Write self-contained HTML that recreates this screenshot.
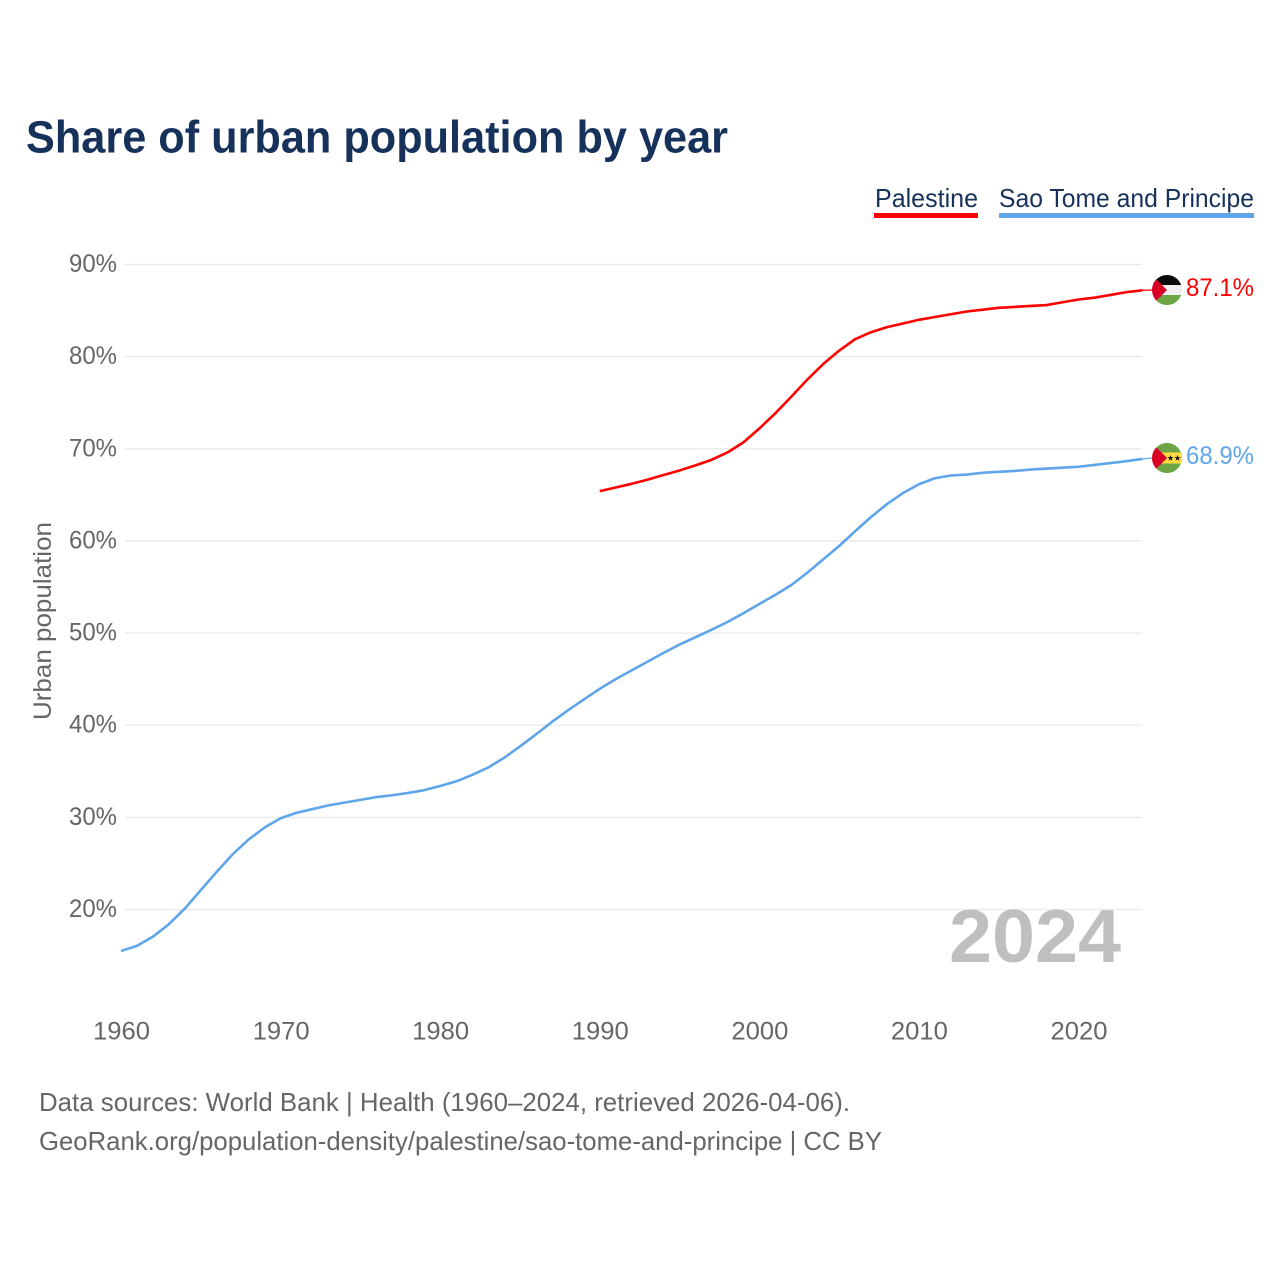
<!DOCTYPE html>
<html lang="en">
<head>
<meta charset="utf-8">
<title>Share of urban population by year</title>
<style>
html,body{margin:0;padding:0;background:#fff;}
svg{display:block;font-family:"Liberation Sans",Arial,sans-serif;}
</style>
</head>
<body>
<svg id="chart" xmlns="http://www.w3.org/2000/svg" width="1280" height="1280" viewBox="0 0 1280 1280">
  <defs>
    <clipPath id="flag-clip-a"><circle cx="1167" cy="290" r="15"/></clipPath>
    <clipPath id="flag-clip-b"><circle cx="1167" cy="458" r="15"/></clipPath>
  </defs>
  <rect x="0" y="0" width="1280" height="1280" fill="#ffffff"/>
  <text x="26" y="152.500" font-size="45" font-weight="700" fill="#17325a" textLength="702" lengthAdjust="spacingAndGlyphs">Share of urban population by year</text>

  <g>
    <text x="875" y="207" font-size="26" fill="#17325a" textLength="103" lengthAdjust="spacingAndGlyphs">Palestine</text>
    <rect x="874" y="213" width="104" height="5" fill="#ff0000"/>
  </g>
  <g>
    <text x="999" y="207" font-size="26" fill="#17325a" textLength="255" lengthAdjust="spacingAndGlyphs">Sao Tome and Principe</text>
    <rect x="999" y="213" width="255" height="5" fill="#5fa5ea"/>
  </g>

  <g id="grid"></g>
  <g id="y-ticks"></g>
  <g id="x-ticks"></g>

  <text transform="translate(51,720) rotate(-90)" x="0" y="0" font-size="25" fill="#666666" textLength="198" lengthAdjust="spacingAndGlyphs">Urban population</text>

  <text x="949" y="962" font-size="75" font-weight="700" fill="#bfbfbf" textLength="172" lengthAdjust="spacingAndGlyphs">2024</text>

  <g id="series"></g>

  <g clip-path="url(#flag-clip-a)">
    <rect x="1152" y="275" width="30" height="10" fill="#0a0a0a"/>
    <rect x="1152" y="285" width="30" height="10" fill="#f0f0f0"/>
    <rect x="1152" y="295" width="30" height="10" fill="#6da544"/>
    <polygon points="1152,275 1167,290 1152,305" fill="#d80027"/>
  </g>
  <g clip-path="url(#flag-clip-b)">
    <rect x="1152" y="443" width="30" height="30" fill="#6da544"/>
    <rect x="1152" y="452.500" width="30" height="11" fill="#ffda44"/>
    <polygon points="1152,443 1167,458 1152,473" fill="#d80027"/>
    <polygon points="1170.500,455 1171.300,457.100 1173.500,457.100 1171.800,458.500 1172.400,460.700 1170.500,459.400 1168.600,460.700 1169.200,458.500 1167.500,457.100 1169.700,457.100" fill="#111111"/>
    <polygon points="1177.500,455 1178.300,457.100 1180.500,457.100 1178.800,458.500 1179.400,460.700 1177.500,459.400 1175.600,460.700 1176.200,458.500 1174.500,457.100 1176.700,457.100" fill="#111111"/>
  </g>

  <text x="1186" y="296" font-size="25" fill="#ff0000" textLength="68" lengthAdjust="spacingAndGlyphs">87.1%</text>
  <text x="1186" y="464" font-size="25" fill="#5fa5ea" textLength="68" lengthAdjust="spacingAndGlyphs">68.9%</text>

  <text x="39" y="1111" font-size="26" fill="#666666" textLength="811" lengthAdjust="spacingAndGlyphs">Data sources: World Bank | Health (1960–2024, retrieved 2026-04-06).</text>
  <text x="39" y="1150" font-size="26" fill="#666666" textLength="843" lengthAdjust="spacingAndGlyphs">GeoRank.org/population-density/palestine/sao-tome-and-principe | CC BY</text>
</svg>
<script>
const yTickValues = [20, 30, 40, 50, 60, 70, 80, 90];
const xTickYears = [1960, 1970, 1980, 1990, 2000, 2010, 2020];
const palestineStartYear = 1990;
const palestineValues = [65.4, 65.8, 66.2, 66.65, 67.15, 67.65, 68.2, 68.8, 69.6, 70.7, 72.2, 73.85, 75.65, 77.5, 79.2, 80.65, 81.9, 82.65, 83.2, 83.6, 84.0, 84.3, 84.6, 84.9, 85.1, 85.3, 85.4, 85.5, 85.6, 85.9, 86.2, 86.4, 86.7, 87.0, 87.2];
const saoTomeStartYear = 1960;
const saoTomeValues = [15.5, 16.05, 17.05, 18.4, 20.1, 22.1, 24.1, 26.0, 27.6, 28.9, 29.9, 30.5, 30.9, 31.3, 31.6, 31.9, 32.2, 32.4, 32.65, 32.95, 33.4, 33.9, 34.6, 35.4, 36.45, 37.7, 39.0, 40.35, 41.6, 42.8, 43.95, 45.0, 45.95, 46.9, 47.85, 48.75, 49.55, 50.35, 51.2, 52.15, 53.15, 54.15, 55.2, 56.55, 58.0, 59.45, 61.05, 62.6, 64.0, 65.2, 66.15, 66.8, 67.1, 67.2, 67.4, 67.5, 67.6, 67.75, 67.85, 67.95, 68.05, 68.25, 68.45, 68.65, 68.9];

const NS = 'http://www.w3.org/2000/svg';
function xScale(year) { return 121 + (year - 1960) * (1078.5 - 121) / 60; }
function yScale(pct) { return 909.5 - (pct - 20) * (909.5 - 264.5) / 70; }

const gridGroup = document.getElementById('grid');
const yTickGroup = document.getElementById('y-ticks');
yTickValues.forEach(function (v) {
  const line = document.createElementNS(NS, 'line');
  
  
  line.setAttribute('x1', 125);
  line.setAttribute('x2', 1142);
  line.setAttribute('y1', yScale(v));
  line.setAttribute('y2', yScale(v));
  line.setAttribute('stroke', '#e9e9e9');
  line.setAttribute('stroke-width', '1.3');
  gridGroup.appendChild(line);

  const label = document.createElementNS(NS, 'text');
  
  
  label.setAttribute('x', 69);
  label.setAttribute('y', yScale(v) + 7.5);
  label.setAttribute('font-size', '25');
  label.setAttribute('fill', '#666666');
  label.setAttribute('textLength', '48');
  label.setAttribute('lengthAdjust', 'spacingAndGlyphs');
  label.textContent = v + '%';
  yTickGroup.appendChild(label);
});

const xTickGroup = document.getElementById('x-ticks');
xTickYears.forEach(function (y) {
  const label = document.createElementNS(NS, 'text');
  
  
  label.setAttribute('x', xScale(y) - 28);
  label.setAttribute('y', 1039.5);
  label.setAttribute('font-size', '25');
  label.setAttribute('fill', '#666666');
  label.setAttribute('textLength', '57');
  label.setAttribute('lengthAdjust', 'spacingAndGlyphs');
  label.textContent = String(y);
  xTickGroup.appendChild(label);
});

function linePoints(startYear, values) {
  return values.map(function (v, i) {
    return xScale(startYear + i).toFixed(2) + ',' + yScale(v).toFixed(2);
  }).join(' ');
}

const seriesGroup = document.getElementById('series');

const palestineLine = document.createElementNS(NS, 'polyline');


palestineLine.setAttribute('points', linePoints(palestineStartYear, palestineValues));
palestineLine.setAttribute('fill', 'none');
palestineLine.setAttribute('stroke', '#ff0000');
palestineLine.setAttribute('stroke-width', '2.6');
palestineLine.setAttribute('stroke-linejoin', 'round');
seriesGroup.appendChild(palestineLine);

const saoTomeLine = document.createElementNS(NS, 'polyline');


saoTomeLine.setAttribute('points', linePoints(saoTomeStartYear, saoTomeValues));
saoTomeLine.setAttribute('fill', 'none');
saoTomeLine.setAttribute('stroke', '#5fa5ea');
saoTomeLine.setAttribute('stroke-width', '2.6');
saoTomeLine.setAttribute('stroke-linejoin', 'round');
seriesGroup.appendChild(saoTomeLine);

const lastYear = 2024;
const palestineConnector = document.createElementNS(NS, 'line');


palestineConnector.setAttribute('x1', xScale(lastYear));
palestineConnector.setAttribute('x2', 1152);
palestineConnector.setAttribute('y1', yScale(palestineValues[palestineValues.length - 1]));
palestineConnector.setAttribute('y2', 290);
palestineConnector.setAttribute('stroke', '#ff0000');
palestineConnector.setAttribute('stroke-width', '1.3');
seriesGroup.appendChild(palestineConnector);

const saoTomeConnector = document.createElementNS(NS, 'line');


saoTomeConnector.setAttribute('x1', xScale(lastYear));
saoTomeConnector.setAttribute('x2', 1152);
saoTomeConnector.setAttribute('y1', yScale(saoTomeValues[saoTomeValues.length - 1]));
saoTomeConnector.setAttribute('y2', 458);
saoTomeConnector.setAttribute('stroke', '#5fa5ea');
saoTomeConnector.setAttribute('stroke-width', '1.3');
seriesGroup.appendChild(saoTomeConnector);
</script>
</body>
</html>
